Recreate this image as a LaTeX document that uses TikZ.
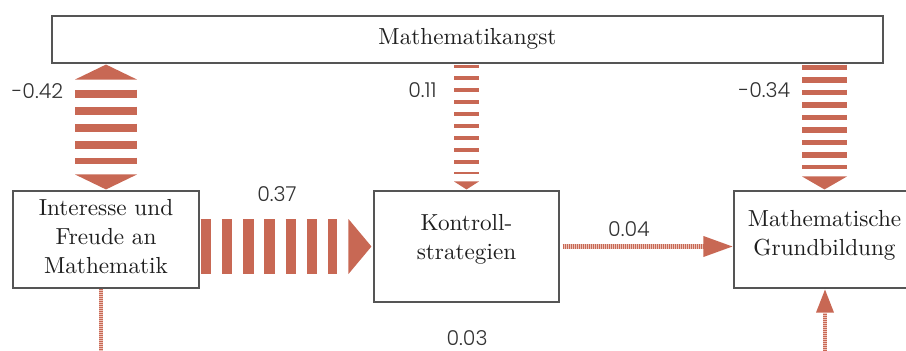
\documentclass[tikz,border=0pt]{standalone}
\usepackage{fontspec}
\usetikzlibrary{calc}
\IfFontExistsTF{Poppins Light}{\newfontfamily\numfont{Poppins Light}}{\newfontfamily\numfont{Lato}}
\newfontfamily\boxfont{lmroman10-regular.otf}
\definecolor{arr}{RGB}{200,104,84}
\definecolor{arrbg}{RGB}{236,196,186}
\definecolor{bord}{RGB}{85,85,85}
\definecolor{txt}{RGB}{30,30,30}
\begin{document}
\begin{tikzpicture}[x=1pt,y=-1pt,
  box/.style={draw=bord,line width=1.1pt,fill=white,inner sep=0pt},
  boxtext/.style={inner sep=0pt,align=center,text=txt,font=\boxfont\fontsize{23.2}{29}\selectfont},
  lab/.style={font=\numfont\fontsize{20.5}{20.5}\selectfont,text=black!80,inner sep=0pt},
  band/.style={draw=arr,line cap=butt},
  dotsbg/.style={draw=arrbg,line cap=butt},
  dots/.style={draw=arr,line cap=butt,dash pattern=on 1pt off 1pt},
  headfill/.style={fill=arr}]
\useasboundingbox (0,0) rectangle (906,351);
% boxes
\node[box,minimum width=831pt,minimum height=47pt] (angst) at (467.5,39.5) {};
\node[box,minimum width=186pt,minimum height=97pt] (inter) at (106,239.5) {};
\node[box,minimum width=185pt,minimum height=111pt] (kontr) at (466.5,246.5) {};
\node[box,minimum width=181pt,minimum height=97pt] (mathg) at (824.5,239.5) {};
\node[boxtext] (angstT) at ($(angst)+(0,-1)$) {Mathematikangst};
\node[boxtext] (interT) at ($(inter)+(0,-3)$) {Interesse und\\Freude an\\Mathematik};
\node[boxtext] (kontrT) at ($(kontr)+(0,-7)$) {Kontroll-\\strategien};
\node[boxtext] (mathgT) at ($(mathg)+(0,-4)$) {Mathematische\\Grundbildung};
% left double arrow -0.42
\coordinate (la) at (angst.south -| inter.north);
\draw[band,line width=62pt,dash pattern=on 8pt off 9pt,shorten <=26pt,shorten >=26pt] (la) -- (inter.north);
\fill[headfill] ($(la)+(0,1)$) -- ($(la)+(31,16)$) -- ($(la)+(-31,16)$) -- cycle;
\fill[headfill] ($(inter.north)+(0,-1)$) -- ($(inter.north)+(31,-16)$) -- ($(inter.north)+(-31,-16)$) -- cycle;
% middle arrow 0.11
\coordinate (ma) at (angst.south -| kontr.north);
\draw[band,line width=25pt,dash pattern=on 3.5pt off 8.44pt,shorten <=1pt,shorten >=16pt] (ma) -- (kontr.north);
\fill[headfill] ($(kontr.north)+(0,-1)$) -- ($(kontr.north)+(12.5,-9)$) -- ($(kontr.north)+(-12.5,-9)$) -- cycle;
% right arrow -0.34
\coordinate (ra) at (angst.south -| mathg.north);
\draw[band,line width=45pt,dash pattern=on 5.5pt off 7.06pt,shorten <=1pt,shorten >=21pt] (ra) -- (mathg.north);
\fill[headfill] ($(mathg.north)+(0,-1)$) -- ($(mathg.north)+(22.5,-14)$) -- ($(mathg.north)+(-22.5,-14)$) -- cycle;
% horizontal 0.37
\coordinate (hs) at (inter.east |- kontr.west);
\draw[band,line width=55pt,dash pattern=on 10.5pt off 10.75pt,shorten <=1pt,shorten >=36pt] (hs) -- (kontr.west);
\fill[headfill] ($(kontr.west)+(-2,0)$) -- ($(kontr.west)+(-25,-27.5)$) -- ($(kontr.west)+(-25,27.5)$) -- cycle;
% 0.04
\coordinate (ms) at (kontr.east -| mathg.west);
\draw[dotsbg,line width=5pt,shorten <=3pt,shorten >=29pt] (kontr.east) -- (ms);
\draw[dots,line width=5pt,shorten <=3pt,shorten >=29pt] (kontr.east) -- (ms);
\fill[headfill] ($(ms)+(-1,0)$) -- ($(ms)+(-30,-10.5)$) -- ($(ms)+(-30,10.5)$) -- cycle;
% bottom-left dotted
\coordinate (bls) at ($(inter.south)+(-5,0)$);
\coordinate (ble) at ($(inter.south)+(-5,70)$);
\draw[dotsbg,line width=4pt] (bls) -- (ble);
\draw[dots,line width=4pt] (bls) -- (ble);
% bottom-right arrow
\coordinate (bre) at ($(mathg.south)+(0.5,70)$);
\coordinate (brt) at ($(mathg.south)+(0.5,0)$);
\draw[dotsbg,line width=4.3pt,shorten >=24pt] (bre) -- (brt);
\draw[dots,line width=4.3pt,shorten >=24pt] (bre) -- (brt);
\fill[headfill] ($(brt)+(0,1)$) -- ($(brt)+(9,24)$) -- ($(brt)+(-9,24)$) -- cycle;
% labels
\node[lab] (l1) at (37.5,91) {-0.42};
\node[lab] (l2) at (422.5,90) {0.11};
\node[lab] (l3) at (764.5,90) {-0.34};
\node[lab] (l4) at (277,194) {0.37};
\node[lab] (l5) at (629,229.5) {0.04};
\node[lab] (l6) at (467,338) {0.03};
\end{tikzpicture}
\end{document}
